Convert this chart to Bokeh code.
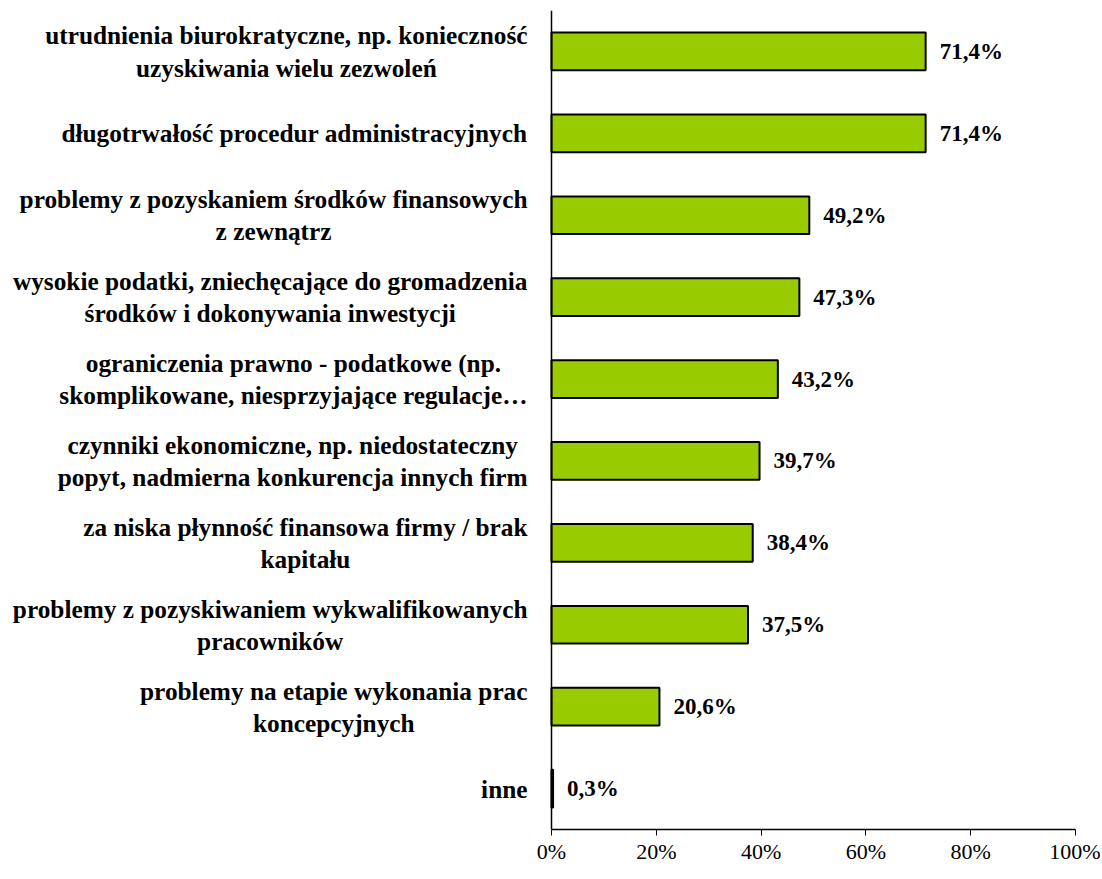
from bokeh.plotting import figure
from bokeh.models import ColumnDataSource, LabelSet, Span, FactorRange, FixedTicker
from bokeh.core.properties import value
from bokeh.embed import file_html
from bokeh.resources import INLINE

categories = [
    "utrudnienia biurokratyczne, np. konieczność\nuzyskiwania wielu zezwoleń",
    "długotrwałość procedur administracyjnych",
    "problemy z pozyskaniem środków finansowych\nz zewnątrz",
    "wysokie podatki, zniechęcające do gromadzenia\nśrodków i dokonywania inwestycji",
    "ograniczenia prawno - podatkowe (np.\nskomplikowane, niesprzyjające regulacje…",
    "czynniki ekonomiczne, np. niedostateczny\npopyt, nadmierna konkurencja innych firm",
    "za niska płynność finansowa firmy / brak\nkapitału",
    "problemy z pozyskiwaniem wykwalifikowanych\npracowników",
    "problemy na etapie wykonania prac\nkoncepcyjnych",
    "inne",
]
values = [71.4, 71.4, 49.2, 47.3, 43.2, 39.7, 38.4, 37.5, 20.6, 0.3]
value_labels = ["71,4%", "71,4%", "49,2%", "47,3%", "43,2%", "39,7%", "38,4%", "37,5%", "20,6%", "0,3%"]
x_ticks = [0, 20, 40, 60, 80, 100]
x_tick_labels = ["0%", "20%", "40%", "60%", "80%", "100%"]

FONT = "Liberation Serif"

# layout (pixels)
W, H = 1100, 876
AXIS_X = 551           # where 0% sits
RIGHT_BORDER = 25
frame_w = W - RIGHT_BORDER
x_start = -100.0 * AXIS_X / (frame_w - AXIS_X)

src = ColumnDataSource(dict(cat=categories, val=values, lab=value_labels,
                            zero=[0] * len(categories)))

p = figure(
    width=W, height=H,
    y_range=FactorRange(*categories[::-1], range_padding=0),
    x_range=(x_start, 100),
    y_axis_location=None,
    output_backend="svg", toolbar_location=None,
    min_border_left=0, min_border_right=RIGHT_BORDER, min_border_top=10, min_border_bottom=47,
)
p.outline_line_color = None
p.xgrid.visible = False
p.ygrid.visible = False
p.background_fill_color = "white"
p.border_fill_color = "white"

p.hbar(y="cat", right="val", left=0, height=0.46, source=src,
       fill_color="#99CC00", line_color="black", line_width=2)

# category axis line at 0%
p.add_layout(Span(location=0, dimension="height", line_color="black", line_width=1.5))

# value labels
p.add_layout(LabelSet(x="val", y="cat", text="lab", source=src, x_offset=14,
                      text_baseline="middle", text_font=FONT,
                      text_font_style="bold", text_font_size="23px", text_color="black"))

# category labels: block right-aligned next to the axis, lines centred
p.text(x="zero", y="cat", text="cat", source=src, x_offset=-24,
       anchor="center_right", text_align="center", text_baseline="middle",
       text_font=value(FONT), text_font_style="bold", text_font_size="25.3px",
       text_color="black", text_line_height=1.15)

xa = p.xaxis[0]
xa.bounds = (0, 100)
xa.ticker = FixedTicker(ticks=x_ticks)
xa.major_label_overrides = dict(zip(x_ticks, x_tick_labels))
xa.major_tick_in = 0
xa.major_tick_out = 6
xa.minor_tick_line_color = None
xa.axis_line_color = "black"
xa.axis_line_width = 1.5
xa.major_tick_line_width = 1
xa.major_tick_line_color = "black"
xa.major_label_text_font = FONT
xa.major_label_text_font_size = "22px"
xa.major_label_text_font_style = "normal"
xa.major_label_text_color = "black"
xa.major_label_standoff = 3

open("out.html", "w").write(file_html(p, INLINE))
